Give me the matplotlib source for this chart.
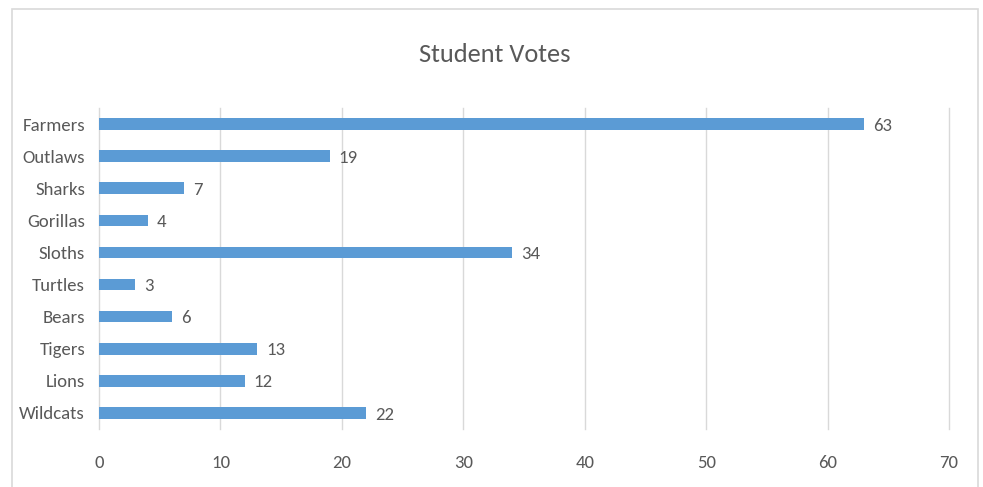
import matplotlib.pyplot as plt
from matplotlib import font_manager as fm
from matplotlib.patches import Rectangle

# Student votes per team (top to bottom in the chart)
teams = ["Farmers", "Outlaws", "Sharks", "Gorillas", "Sloths",
         "Turtles", "Bears", "Tigers", "Lions", "Wildcats"]
votes = [63, 19, 7, 4, 34, 3, 6, 13, 12, 22]

# Calibri-like narrow font if there is one, else DejaVu
have = {f.name for f in fm.fontManager.ttflist}
pick = [n for n in ["Carlito", "Roboto Condensed", "Open Sans Condensed",
                    "Liberation Sans Narrow"] if n in have]
plt.rcParams['font.family'] = pick[:1] + ['DejaVu Sans']
size = 13.5 if pick else 11
grey = "#595959"

fig = plt.figure(figsize=(9.83, 4.87), dpi=100)
ax = fig.add_axes([99/983, 1 - 429/487, 850/983, 321/487])

# outer chart frame
fig.patches.append(Rectangle((12/983, -0.01), 966/983, 1 - 9/487 + 0.01,
                             transform=fig.transFigure, fill=False,
                             edgecolor="#d9d9d9", linewidth=1.2))

y = list(range(len(teams)))[::-1]
ax.barh(y, votes, height=0.36, color="#5b9bd5", zorder=3)
for yi, v in zip(y, votes):
    ax.text(v + 0.75, yi - 0.05, str(v), va="center", ha="left",
            fontsize=size, color=grey)

ax.set_xlim(0, 70)
ax.set_ylim(-0.5, len(teams) - 0.5)
ax.set_xticks(range(0, 71, 10))
ax.set_yticks(y)
ax.set_yticklabels(teams)
ax.tick_params(axis="x", length=0, pad=19, labelsize=size, labelcolor=grey)
ax.tick_params(axis="y", length=0, pad=10, labelsize=size, labelcolor=grey)
ax.grid(axis="x", color="#d9d9d9", linewidth=1, zorder=0)
for gl in ax.get_xgridlines():
    gl.set_clip_on(False)
for s in ax.spines.values():
    s.set_visible(False)

fig.text(0.5 + 3/983, 1 - 55/487, "Student Votes", ha="center", va="center",
         fontsize=19, color=grey)

fig.savefig("out.png", dpi=100)
